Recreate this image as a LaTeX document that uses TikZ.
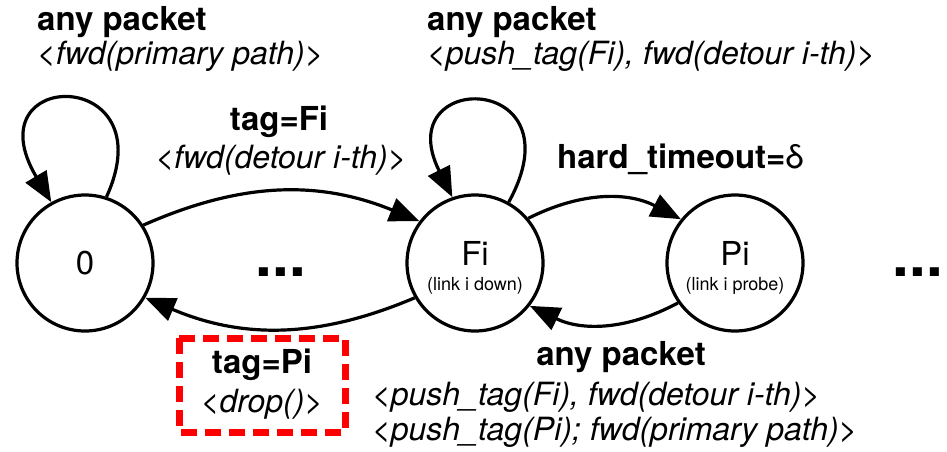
\documentclass[tikz,border=0pt]{standalone}
\usepackage{fontspec}
\setmainfont{TeX Gyre Heros}
\usetikzlibrary{arrows.meta}

\tikzset{
  state/.style={circle, draw, line width=3.2pt, minimum size=136pt, inner sep=0pt},
  trans/.style={line width=3.2pt, -{Triangle[length=30pt,width=24pt]}},
  evt/.style={font=\fontsize{33}{36}\selectfont\bfseries, inner sep=0pt},
  act/.style={font=\fontsize{32}{36}\selectfont\itshape, inner sep=0pt},
  more/.style={font=\fontsize{60}{60}\selectfont\bfseries, inner sep=0pt},
  dropbox/.style={draw=red, line width=7pt, dash pattern=on 16pt off 8pt}
}

\begin{document}
\begin{tikzpicture}[x=1pt, y=-1pt]
  \useasboundingbox (0,0) rectangle (947,451);

  % states
  \node[state] (n0) at (85,263) {\fontsize{33}{33}\selectfont 0};
  \node[state] (nF) at (475,263) {};
  \node[state] (nP) at (735,263) {};
  \node[font=\fontsize{33}{33}\selectfont, anchor=base, inner sep=0pt] (tF) at (475,265) {Fi};
  \node[font=\fontsize{18}{18}\selectfont, anchor=base, inner sep=0pt] (sF) at (475,290) {(link i down)};
  \node[font=\fontsize{33}{33}\selectfont, anchor=base, inner sep=0pt] (tP) at (735,265) {Pi};
  \node[font=\fontsize{18}{18}\selectfont, anchor=base, inner sep=0pt] (sP) at (735,290) {(link i probe)};

  % elided states
  \node[more, anchor=base] (d1) at (281,276) {...};
  \node[more, anchor=base] (d2) at (918,276) {...};

  % transitions
  \draw[trans] (n0.72) .. controls +(60,-131) and +(-80,-135) .. (n0.119);
  \draw[trans] (nF.61) .. controls +(72,-131) and +(-64,-128) .. (nF.109);
  \draw[trans] (n0.33) to[bend left=23] (nF.143);
  \draw[trans] (nF.210) to[bend left=23] (n0.330);
  \draw[trans] (nF.40) to[bend left=27] (nP.141);
  \draw[trans] (nP.215) to[bend left=27] (nF.322);

  % labels
  \node[evt, anchor=base west] (l1) at (37,30) {any packet};
  \node[act, anchor=base west] (a1) at (37,64) {<fwd(primary path)>};

  \node[evt, anchor=base west] (l2) at (427,30) {any packet};
  \node[act, anchor=base west] (a2) at (427,64) {<push\_tag(Fi), fwd(detour i-th)>};

  \node[evt, anchor=base] (l3) at (279,130) {tag=Fi};
  \node[act, anchor=base] (a3) at (281,168) {<fwd(detour i-th)>};

  \node[evt, anchor=base west] (l4) at (557,168) {hard\_timeout=\textmd{δ}};

  \node[evt, anchor=base] (l5) at (262,373) {tag=Pi};
  \node[act, anchor=base] (a5) at (262,412) {<drop()>};
  \draw[dropbox] (179,338) rectangle (345,432);

  \node[evt, anchor=base] (l6) at (621,365) {any packet};
  \node[act, anchor=base west] (a6) at (372,405) {<push\_tag(Fi), fwd(detour i-th)>};
  \node[act, anchor=base west] (a7) at (372,440) {<push\_tag(Pi); fwd(primary path)>};
\end{tikzpicture}
\end{document}
